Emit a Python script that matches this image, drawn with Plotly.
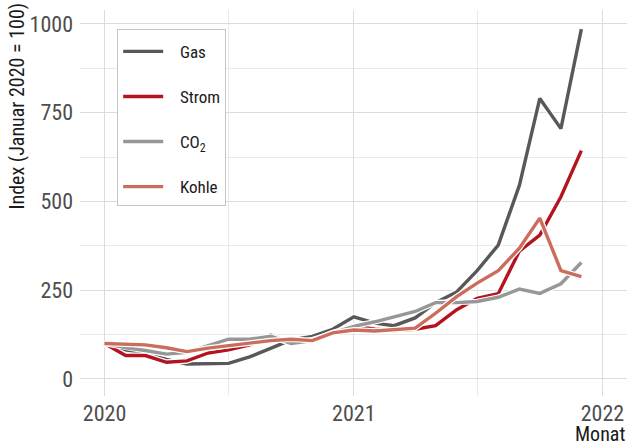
import pandas as pd
import plotly.graph_objects as go

months = pd.date_range("2020-01-01", "2021-12-01", freq="MS")

gas = [100, 82, 72, 55, 42, 42, 44, 62, 87, 110, 120, 140,
       175, 157, 150, 172, 215, 245, 305, 377, 545, 790, 705, 985]
strom = [100, 66, 66, 47, 51, 73, 82, 96, 124, 100, 110, 127,
         150, 140, 136, 140, 150, 195, 227, 240, 360, 405, 513, 643]
co2 = [100, 88, 80, 70, 75, 95, 112, 112, 120, 100, 108, 130,
       148, 161, 175, 190, 215, 215, 218, 230, 253, 241, 268, 328]
kohle = [100, 98, 96, 88, 77, 87, 94, 102, 108, 112, 108, 130,
         138, 135, 138, 143, 185, 232, 270, 305, 368, 453, 305, 288]

series_names = ["Gas", "Strom", "CO<sub>2</sub>", "Kohle"]
series_values = [gas, strom, co2, kohle]
colors = ["#585858", "#B3141F", "#979797", "#CB6D5C"]

FONT = "Roboto Condensed, Liberation Sans Narrow, Roboto, sans-serif"
NB = "\u00a0"

fig = go.Figure()
for i, (name, vals, col) in enumerate(zip(series_names, series_values, colors)):
    fig.add_trace(go.Scatter(x=months, y=vals, mode="lines",
                             line=dict(color="white", width=5.8),
                             showlegend=False, hoverinfo="skip",
                             legendgroup=f"g{i}"))
    fig.add_trace(go.Scatter(x=months, y=vals, mode="lines",
                             name=NB * 3 + name,
                             line=dict(color=col, width=3.4),
                             legendgroup=f"g{i}"))

fig.update_layout(
    width=627, height=441,
    margin=dict(l=80, r=0, t=10, b=45, autoexpand=False),
    paper_bgcolor="white", plot_bgcolor="white",
    font=dict(family=FONT, color="#4d4d4d"),
    showlegend=True,
    legend=dict(x=0.068, y=0.951, xanchor="left", yanchor="top",
                bgcolor="white", bordercolor="#c4c4c4", borderwidth=1,
                font=dict(size=17, color="#1a1a1a", family=FONT),
                title=dict(text=NB, font=dict(size=3)),
                traceorder="grouped", tracegroupgap=20,
                itemwidth=40),
)
fig.update_xaxes(
    range=["2019-11-26", "2022-02-06"],
    tickvals=["2020-01-01", "2021-01-01", "2022-01-01"],
    ticktext=["2020", "2021", "2022"],
    tickfont=dict(size=22, color="#4d4d4d"),
    showgrid=True, gridcolor="#dcdcdc", gridwidth=1.3,
    minor=dict(tickvals=["2020-07-01", "2021-07-01"], showgrid=True,
               gridcolor="#e9e9e9", gridwidth=0.9),
    zeroline=False, showline=False, ticks="", ticklabelstandoff=2,
    automargin=False,
)
fig.update_yaxes(
    range=[-48, 1039],
    tickvals=[0, 250, 500, 750, 1000],
    tickfont=dict(size=22, color="#4d4d4d"),
    showgrid=True, gridcolor="#dcdcdc", gridwidth=1.3,
    minor=dict(tickvals=[125, 375, 625, 875], showgrid=True,
               gridcolor="#e9e9e9", gridwidth=0.9),
    zeroline=False, showline=False, ticks="", ticklabelstandoff=6,
    automargin=False,
)
fig.add_annotation(text="Index (Januar 2020 = 100)", textangle=-90,
                   xref="paper", yref="paper", x=0, y=1.0,
                   xshift=-64, yshift=9,
                   xanchor="center", yanchor="top", showarrow=False,
                   font=dict(size=20, color="#1a1a1a", family=FONT))
fig.add_annotation(text="Monat", xref="paper", yref="paper", x=1, y=0,
                   xanchor="right", yanchor="top", yshift=-24,
                   showarrow=False,
                   font=dict(size=20, color="#1a1a1a", family=FONT))

fig.write_html("out.html",
               config={"displayModeBar": False},
               post_script="document.body.style.margin='0';"
                           "document.body.style.overflow='hidden';")
